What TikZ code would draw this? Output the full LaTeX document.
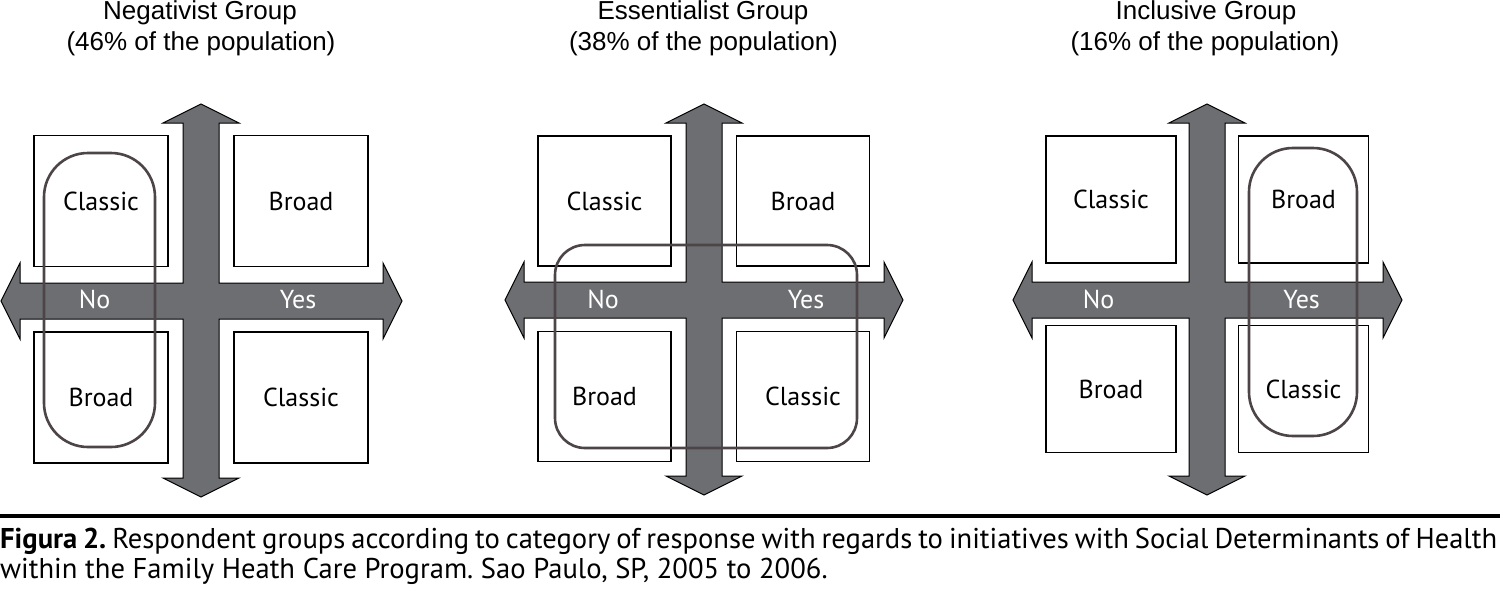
\documentclass[tikz,border=0pt]{standalone}
\usepackage{fontspec}
\setmainfont{PT Sans}
\newfontfamily\arialf{Liberation Sans}
\definecolor{arrowgray}{HTML}{6D6E71}
\definecolor{ringcol}{HTML}{4C4446}
% cross-shaped double arrow: #1 cx, #2 cy, #3 left tip x, #4 right tip x, #5 top tip y, #6 bottom tip y
\newcommand{\crossarrow}[6]{%
  \draw[crossshape]
    (#1,#5) -- ({#1+38},{#5+19}) -- ({#1+18},{#5+19}) -- ({#1+18},{#2-18})
    -- ({#4-19},{#2-18}) -- ({#4-19},{#2-38}) -- (#4,#2) -- ({#4-19},{#2+38})
    -- ({#4-19},{#2+18}) -- ({#1+18},{#2+18}) -- ({#1+18},{#6-19}) -- ({#1+38},{#6-19})
    -- (#1,#6) -- ({#1-38},{#6-19}) -- ({#1-18},{#6-19}) -- ({#1-18},{#2+18})
    -- ({#3+19},{#2+18}) -- ({#3+19},{#2+38}) -- (#3,#2) -- ({#3+19},{#2-38})
    -- ({#3+19},{#2-18}) -- ({#1-18},{#2-18}) -- ({#1-18},{#5+19}) -- ({#1-38},{#5+19})
    -- cycle;}
\begin{document}
\frenchspacing
\begin{tikzpicture}[x=1pt,y=-1pt,
  crossshape/.style={fill=arrowgray,draw=black,line width=1pt,line join=miter},
  catbox/.style={draw=black,fill=white,line width=1.4pt,inner sep=0pt,
     font=\fontsize{26}{30}\selectfont},
  axislabel/.style={text=white,inner sep=0pt,anchor=base,font=\fontsize{26}{30}\selectfont},
  ring/.style={draw=ringcol,line width=2.6pt},
  titletext/.style={inner sep=0pt,anchor=base,font=\arialf\fontsize{26}{30}\selectfont},
  captext/.style={inner sep=0pt,anchor=base west,font=\fontsize{28.6}{30}\selectfont}]
\useasboundingbox (0,0) rectangle (1500,590);

% titles
\node[titletext] (t1a) at (200,19.5) {Negativist Group};
\node[titletext] (t1b) at (201,50) {(46\% of the population)};
\node[titletext] (t2a) at (703,19.5) {Essentialist Group};
\node[titletext] (t2b) at (703.5,50) {(38\% of the population)};
\node[titletext] (t3a) at (1206,19.5) {Inclusive Group};
\node[titletext] (t3b) at (1205,50) {(16\% of the population)};

% arrows
\crossarrow{201}{301}{1}{402}{104}{497}
\crossarrow{704}{300}{505}{903}{104}{495}
\crossarrow{1207}{300}{1013}{1402}{104}{495}

% panel 1 boxes
\node[catbox,minimum width=134pt,minimum height=131pt] (p1tl) at (101,201) {Classic};
\node[catbox,minimum width=134pt,minimum height=131pt] (p1tr) at (301,201) {Broad};
\node[catbox,minimum width=134pt,minimum height=131pt] (p1bl) at (101,397.5) {Broad};
\node[catbox,minimum width=134pt,minimum height=131pt] (p1br) at (301,397.5) {Classic};
% panel 2 boxes
\node[catbox,minimum width=133pt,minimum height=130pt] (p2tl) at (604.5,201) {Classic};
\node[catbox,minimum width=133pt,minimum height=130pt] (p2tr) at (803,201) {Broad};
\node[catbox,minimum width=133pt,minimum height=130pt] (p2bl) at (604.5,396.5) {Broad};
\node[catbox,minimum width=133pt,minimum height=130pt] (p2br) at (803,396.5) {Classic};
% panel 3 boxes
\node[catbox,minimum width=130pt,minimum height=127pt] (p3tl) at (1111,199.5) {Classic};
\node[catbox,minimum width=130pt,minimum height=127pt] (p3tr) at (1303.5,199.5) {Broad};
\node[catbox,minimum width=130pt,minimum height=127pt] (p3bl) at (1111,389) {Broad};
\node[catbox,minimum width=130pt,minimum height=127pt] (p3br) at (1303.5,389) {Classic};

% axis labels
\node[axislabel] (n1) at (94.7,308) {No};
\node[axislabel] (y1) at (298,308) {Yes};
\node[axislabel] (n2) at (603,308) {No};
\node[axislabel] (y2) at (806,308) {Yes};
\node[axislabel] (n3) at (1098.7,308) {No};
\node[axislabel] (y3) at (1301.7,308) {Yes};

% group outlines
\draw[ring,rounded corners=44pt] (44,153) rectangle (155,447);
\draw[ring,rounded corners=30pt] (555,245) rectangle (857,448);
\draw[ring,rounded corners=44pt] (1249,148) rectangle (1357,436);

% separator and caption
\draw[line width=3.5pt] (0,516) -- (1500,516);
\node[captext] (cap1) at (0,548)
  {\makebox[1497pt][s]{\textbf{Figura 2.} Respondent groups according to category of response with regards to initiatives with Social Determinants of Health}};
\node[captext] (cap2) at (0,578)
  {within the Family Heath Care Program. Sao Paulo, SP, 2005 to 2006.};
\end{tikzpicture}
\end{document}
